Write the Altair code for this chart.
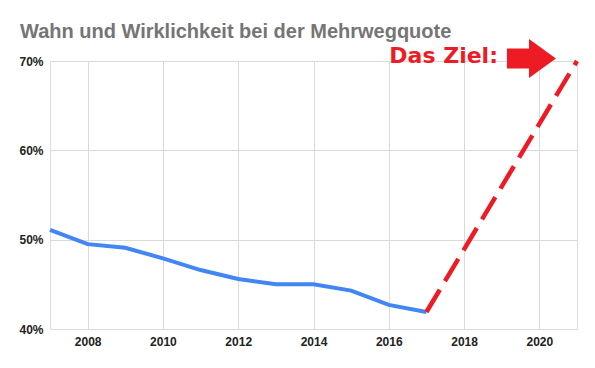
import altair as alt
import pandas as pd

years = [2007, 2008, 2009, 2010, 2011, 2012, 2013, 2014, 2015, 2016, 2017]
quote = [51.1, 49.5, 49.1, 47.9, 46.6, 45.6, 45.0, 45.0, 44.3, 42.7, 41.9]

goal_years = [2017, 2021]
goal_quote = [41.9, 70.0]

label_text = ["Das Ziel:"]
label_year = [2018.9]
label_quote = [69.8]

arrow_year = [2019.79]
arrow_quote = [70.28]

x_ticks = [2008, 2010, 2012, 2014, 2016, 2018, 2020]
y_ticks = [40, 50, 60, 70]

df = pd.DataFrame({"Jahr": years, "Quote": quote})
df_goal = pd.DataFrame({"Jahr": goal_years, "Quote": goal_quote})
df_label = pd.DataFrame({"Jahr": label_year, "Quote": label_quote, "t": label_text})
df_arrow = pd.DataFrame({"Jahr": arrow_year, "Quote": arrow_quote})

FONT = "Liberation Sans"

x_enc = alt.X("Jahr:Q",
              scale=alt.Scale(domain=[2007, 2021], nice=False, zero=False),
              axis=alt.Axis(values=x_ticks, format="d", title=None, ticks=False,
                            domain=False, grid=True, gridColor="#d9d9d9",
                            labelFont=FONT, labelFontSize=12, labelFontWeight="bold",
                            labelColor="#222222", labelPadding=7))
y_enc = alt.Y("Quote:Q",
              scale=alt.Scale(domain=[40, 70], nice=False, zero=False),
              axis=alt.Axis(values=y_ticks, labelExpr="datum.value + '%'", title=None,
                            ticks=False, domain=False, grid=True, gridColor="#d9d9d9",
                            labelFont=FONT, labelFontSize=12, labelFontWeight="bold",
                            labelColor="#222222", labelPadding=7))

blue = alt.Chart(df).mark_line(color="#4285F4", strokeWidth=4, clip=False).encode(
    x=x_enc, y=y_enc)

red = alt.Chart(df_goal).mark_line(color="#ED1C24", strokeWidth=4.5,
                                   strokeDash=[26, 10], clip=False).encode(
    x="Jahr:Q", y="Quote:Q")

label = alt.Chart(df_label).mark_text(
    font="DejaVu Sans", fontSize=22, fontWeight="bold", color="#ED1C24",
    align="right", baseline="alphabetic").encode(
    x="Jahr:Q", y="Quote:Q", text="t:N")

arrow_path = "M-1,-0.41 L-0.1,-0.41 L-0.1,-0.8 L1,0 L-0.1,0.8 L-0.1,0.41 L-1,0.41 Z"
arrow = alt.Chart(df_arrow).mark_point(
    shape=arrow_path, size=2401, filled=True, color="#ED1C24", opacity=1,
    strokeWidth=0).encode(x="Jahr:Q", y="Quote:Q")

chart = alt.layer(blue, red, label, arrow).properties(
    width=527, height=268,
    title=alt.TitleParams(
        text="Wahn und Wirklichkeit bei der Mehrwegquote",
        anchor="start", frame="group", orient="top", dx=-30, dy=37,
        font=FONT, fontSize=20, fontWeight="bold", color="#757575",
        baseline="alphabetic", offset=18),
    autosize=alt.AutoSizeParams(type="none"),
    padding={"left": 50, "top": 61, "right": 18, "bottom": 39},
).configure_view(stroke=None).configure(background="white")

chart.save("out.html", embed_options={"renderer": "svg", "actions": False})
